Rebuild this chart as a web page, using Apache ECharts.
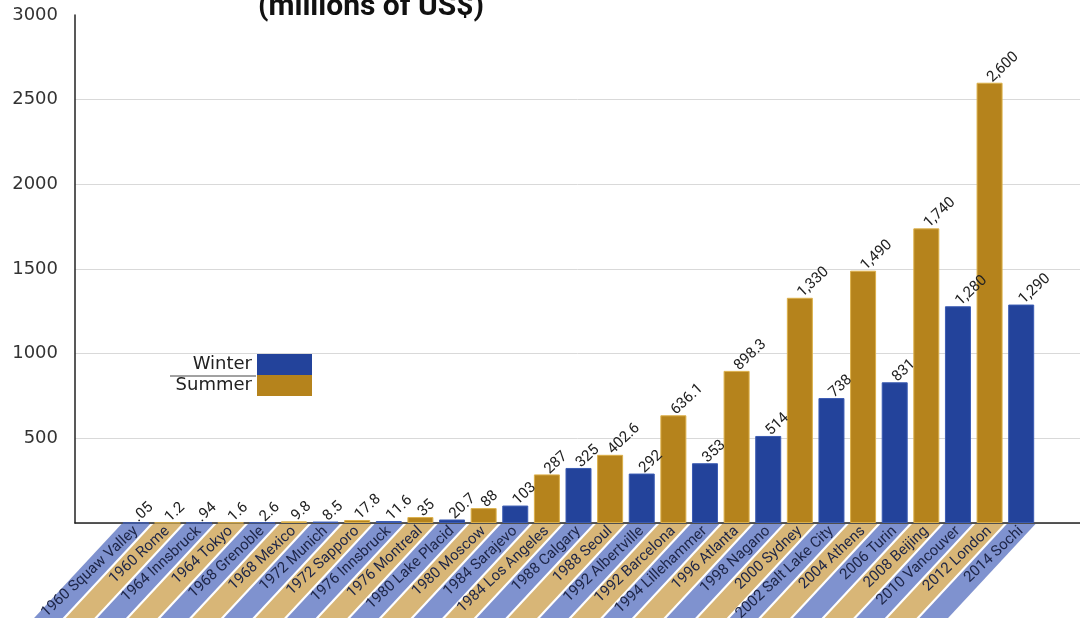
<!DOCTYPE html>
<html>
<head>
<meta charset="utf-8">
<script src="https://cdn.jsdelivr.net/npm/echarts@6/dist/echarts.min.js"></script>
<style>html,body{margin:0;padding:0;background:#fff;}#chart{width:1080px;height:620px;}</style>
</head>
<body>
<div id="chart"></div>
<script>
const categories = ['1960 Squaw Valley','1960 Rome','1964 Innsbruck','1964 Tokyo','1968 Grenoble','1968 Mexico','1972 Munich','1972 Sapporo','1976 Innsbruck','1976 Montreal','1980 Lake Placid','1980 Moscow','1984 Sarajevo','1984 Los Angeles','1988 Calgary','1988 Seoul','1992 Albertville','1992 Barcelona','1994 Lillehammer','1996 Atlanta','1998 Nagano','2000 Sydney','2002 Salt Lake City','2004 Athens','2006 Turin','2008 Beijing','2010 Vancouver','2012 London','2014 Sochi'];
const costs = [0.05, 1.2, 0.94, 1.6, 2.6, 9.8, 8.5, 17.8, 11.6, 35, 20.7, 88, 103, 287, 325, 402.6, 292, 636.1, 353, 898.3, 514, 1330, 738, 1490, 831, 1740, 1280, 2600, 1290];
const seasons = ['W','S','W','S','W','S','W','S','W','S','W','S','W','S','W','S','W','S','W','S','W','S','W','S','W','S','W','S','W'];
const yTicks = [0, 500, 1000, 1500, 2000, 2500, 3000];

const winterColor = '#23439b', summerColor = '#b5831c';
const winterStripe = '#7f92cf', summerStripe = '#d8b677';

function fmt(v) {
  if (v < 1) return String(v).replace(/^0/, '');
  if (v >= 1000) return v.toLocaleString('en-US');
  return String(v);
}
const valueLabel = {
  show: true, position: 'top', distance: 3, rotate: 43, align: 'left', verticalAlign: 'middle',
  fontFamily: 'Roboto', fontSize: 15, color: '#222',
  formatter: p => fmt(p.value)
};

const chart = echarts.init(document.getElementById('chart'), null, {renderer: 'canvas'});
chart.setOption({
  backgroundColor: '#fff',
  animation: false,
  title: {
    text: '(millions of US$)', left: 258, top: -8, padding: 0,
    textStyle: {fontFamily: 'Roboto', fontWeight: 'bold', fontSize: 30, color: '#111'}
  },
  legend: {
    data: ['Winter', 'Summer'], orient: 'vertical', align: 'right', right: 768, top: 354,
    padding: 0, itemGap: 0, itemWidth: 55, itemHeight: 21, icon: 'rect',
    itemStyle: {borderWidth: 0},
    textStyle: {fontFamily: 'DejaVu Sans', fontSize: 18, color: '#222'}
  },
  graphic: [{
    type: 'line', shape: {x1: 170, y1: 376, x2: 256, y2: 376}, style: {stroke: '#444', lineWidth: 1}
  }],
  grid: [
    {left: 75, right: 0, top: 15, bottom: 97, containLabel: false, outerBoundsMode: 'none'},
    {left: 120, right: 43, top: 15, bottom: 97, containLabel: false, outerBoundsMode: 'none'}
  ],
  xAxis: [
    {gridIndex: 0, type: 'value', min: 0, max: 1, axisLine: {show: true, lineStyle: {color: '#222', width: 1.5}},
     axisTick: {show: false}, axisLabel: {show: false}, splitLine: {show: false}},
    {gridIndex: 1, type: 'category', data: categories, z: 10,
     axisLine: {show: false}, axisTick: {show: false},
     axisLabel: {interval: 0, rotate: 43, margin: 6, fontFamily: 'Roboto', fontSize: 15, color: '#1d2547'}}
  ],
  yAxis: [
    {gridIndex: 0, type: 'value', min: 0, max: 3000, interval: 500,
     axisLine: {show: true, lineStyle: {color: '#222', width: 1.5}}, axisTick: {show: false},
     axisLabel: {margin: 17, fontFamily: 'DejaVu Sans', fontSize: 18, color: '#333',
       formatter: v => (v === 0 ? '' : String(v))},
     splitLine: {show: true, lineStyle: {color: yTicks.map(t => (t === 3000 ? 'rgba(0,0,0,0)' : '#d9d9d9')), width: 1}}},
    {gridIndex: 1, type: 'value', min: 0, max: 3000, show: false}
  ],
  series: [
    {
      type: 'custom', name: 'stripes', xAxisIndex: 1, yAxisIndex: 1, clip: false, silent: true, z: 1,
      data: categories.map((c, i) => [i, 0]),
      renderItem: function (params, api) {
        const i = api.value(0);
        const p = api.coord([i, 0]);
        const w = api.size([1, 0])[0];
        const h = 94, dx = h * 0.93, half = w / 2 - 1.5;
        const y0 = p[1] + 1;
        return {
          type: 'polygon',
          shape: {points: [[p[0] - half, y0], [p[0] + half, y0], [p[0] + half - dx, y0 + h], [p[0] - half - dx, y0 + h]]},
          style: {fill: seasons[i] === 'W' ? winterStripe : summerStripe}
        };
      }
    },
    {
      type: 'bar', name: 'Winter', xAxisIndex: 1, yAxisIndex: 1, barWidth: 26, barGap: '-100%', z: 3,
      itemStyle: {color: winterColor, borderColor: '#3b5bb3', borderWidth: 1},
      data: costs.map((v, i) => (seasons[i] === 'W' ? v : null)),
      label: valueLabel
    },
    {
      type: 'bar', name: 'Summer', xAxisIndex: 1, yAxisIndex: 1, barWidth: 26, z: 3,
      itemStyle: {color: summerColor, borderColor: '#dcb04a', borderWidth: 1},
      data: costs.map((v, i) => (seasons[i] === 'S' ? v : null)),
      label: valueLabel
    }
  ]
});
</script>
</body>
</html>
